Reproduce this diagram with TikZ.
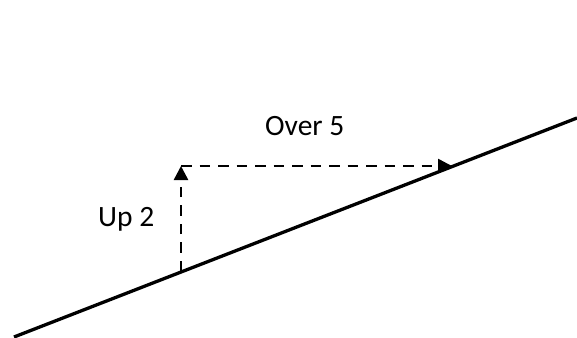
\documentclass[tikz,border=0pt]{standalone}
\usepackage{fontspec}
\setmainfont{Carlito}
\usetikzlibrary{arrows.meta}
\begin{document}
\begin{tikzpicture}[x=1pt,y=-1pt,
  slope/.style={line width=3.3pt},
  dashline/.style={line width=2.5pt,dash pattern=on 10.5pt off 8pt,-{Triangle[length=14pt,width=14pt]}},
  lbl/.style={font=\fontsize{29.5pt}{34pt}\selectfont,inner sep=0pt,anchor=base west}]
\useasboundingbox (0,0) rectangle (577,337);
\coordinate (s1) at (14,337);
\coordinate (s2) at (577,118);
\coordinate (foot) at (181,271);
\coordinate (corner) at (181,166);
\coordinate (tip) at (452,166);
\draw[slope] (s1) -- (s2);
\draw[dashline] (foot) -- (corner);
\draw[dashline] (corner) -- (tip);
\node[lbl] (up) at (98,226) {Up 2};
\node[lbl] (over) at (265,135) {Over 5};
\end{tikzpicture}
\end{document}
